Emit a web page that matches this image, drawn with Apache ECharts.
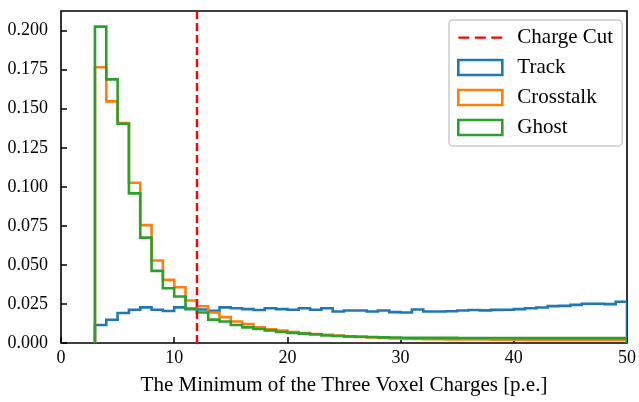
<!DOCTYPE html>
<html>
<head>
<meta charset="utf-8">
<script src="https://cdn.jsdelivr.net/npm/echarts@6/dist/echarts.min.js"></script>
<style>
html,body{margin:0;padding:0;background:#fff;}
#chart{width:639px;height:402px;}
</style>
</head>
<body>
<div id="chart"></div>
<script>
// Bin left edges (width 1) from 3 to 49; last bin ends at 50
const BIN_START = 3;
const BIN_WIDTH = 1;
const CHARGE_CUT = 12;
const X_TICKS = [0, 10, 20, 30, 40, 50];
const Y_TICKS = ['0.000','0.025','0.050','0.075','0.100','0.125','0.150','0.175','0.200'];

const track = [
  0.0115, 0.0149, 0.0192, 0.0213, 0.0228, 0.0213, 0.0205, 0.0228, 0.0217, 0.0215,
  0.0206, 0.0228, 0.0223, 0.0217, 0.0211, 0.0223, 0.0217, 0.0213, 0.0223, 0.0213,
  0.0223, 0.0202, 0.0208, 0.0208, 0.0202, 0.0208, 0.0198, 0.0195, 0.0215, 0.0202,
  0.0202, 0.0203, 0.0208, 0.0211, 0.0209, 0.0212, 0.0213, 0.0217, 0.0223, 0.0227,
  0.0236, 0.0238, 0.0244, 0.0251, 0.0251, 0.0249, 0.0264
];
const crosstalk = [
  0.1766, 0.1547, 0.1409, 0.1026, 0.0755, 0.0528, 0.0404, 0.0357, 0.0272, 0.0235,
  0.0195, 0.0166, 0.0138, 0.0121, 0.0100, 0.0087, 0.0079, 0.0070, 0.0064, 0.0058,
  0.0053, 0.0048, 0.0043, 0.0039, 0.0036, 0.0032, 0.0029, 0.0027, 0.0026, 0.0025,
  0.0024, 0.0023, 0.0023, 0.0022, 0.0022, 0.0021, 0.0021, 0.0021, 0.0020, 0.0020,
  0.0020, 0.0020, 0.0019, 0.0019, 0.0019, 0.0019, 0.0019
];
const ghost = [
  0.2026, 0.1688, 0.1404, 0.0958, 0.0675, 0.0462, 0.0351, 0.0298, 0.0220, 0.0195,
  0.0150, 0.0138, 0.0115, 0.0100, 0.0090, 0.0080, 0.0070, 0.0065, 0.0060, 0.0055,
  0.0048, 0.0045, 0.0042, 0.0040, 0.0038, 0.0036, 0.0035, 0.0034, 0.0033, 0.0033,
  0.0033, 0.0033, 0.0032, 0.0032, 0.0032, 0.0032, 0.0032, 0.0031, 0.0031, 0.0031,
  0.0031, 0.0031, 0.0031, 0.0031, 0.0031, 0.0031, 0.0031
];

const COLORS = {track:'#1f77b4', crosstalk:'#ff7f0e', ghost:'#2ca02c', cut:'#ff0000'};
const FONT = '"Liberation Serif", "Times New Roman", serif';

function stepSeries(name, values, color) {
  const data = values.map((v, i) => [BIN_START + i * BIN_WIDTH, v]);
  return {
    name: name,
    type: 'custom',
    itemStyle: {color: color},
    clip: true,
    encode: {x: 0, y: 1},
    data: data,
    renderItem: function (params, api) {
      if (params.dataIndex !== 0) return null;
      const pts = [];
      for (let i = 0; i < values.length; i++) {
        const x0 = BIN_START + i * BIN_WIDTH;
        const x1 = x0 + BIN_WIDTH;
        const prev = i === 0 ? 0 : values[i - 1];
        pts.push(api.coord([x0, prev]));
        pts.push(api.coord([x0, values[i]]));
        pts.push(api.coord([x1, values[i]]));
      }
      const xe = BIN_START + values.length * BIN_WIDTH;
      pts.push(api.coord([xe, 0]));
      return {
        type: 'polyline',
        shape: {points: pts},
        style: {stroke: color, fill: null, lineWidth: 2.6, lineJoin: 'miter'}
      };
    }
  };
}

const chart = echarts.init(document.getElementById('chart'), null, {renderer: 'canvas'});
const option = {
  animation: false,
  textStyle: {fontFamily: FONT, color: '#000'},
  grid: {left: 61, right: 9, top: 11, bottom: 59, show: true, borderColor: '#000', borderWidth: 1.6, containLabel: false},
  xAxis: {
    type: 'value', min: 0, max: 50, interval: 10,
    name: 'The Minimum of the Three Voxel Charges [p.e.]',
    nameLocation: 'middle', nameGap: 32,
    nameTextStyle: {fontFamily: FONT, fontSize: 21, color: '#000'},
    axisLine: {show: false},
    axisTick: {show: true, inside: true, length: 6, lineStyle: {color: '#000', width: 1.5}},
    axisLabel: {fontFamily: FONT, fontSize: 18, color: '#000', margin: 6,
      formatter: v => X_TICKS.indexOf(v) >= 0 ? String(v) : ''},
    splitLine: {show: false}
  },
  yAxis: {
    type: 'value', min: 0, max: 0.2126, interval: 0.025,
    axisLine: {show: false},
    axisTick: {show: true, inside: true, length: 6, lineStyle: {color: '#000', width: 1.5}},
    axisLabel: {fontFamily: FONT, fontSize: 18, color: '#000', margin: 13, showMaxLabel: false,
      formatter: v => { const s = v.toFixed(3); return Y_TICKS.indexOf(s) >= 0 ? s : ''; }},
    splitLine: {show: false}
  },
  legend: {
    orient: 'vertical', left: 449, top: 20,
    padding: [7, 9, 8, 8],
    itemGap: 9, itemWidth: 44, itemHeight: 15,
    borderColor: '#cccccc', borderWidth: 1.5, borderRadius: 4,
    backgroundColor: 'rgba(255,255,255,0.8)',
    textStyle: {fontFamily: FONT, fontSize: 21, lineHeight: 21, color: '#000', padding: [0, 0, 0, 10]},
    selectedMode: false,
    data: [
      {name: 'Charge Cut',
       icon: 'path://M0,0h0.01v0.01h-0.01z M44,15h0.01v0.01h-0.01z M0,6.4h11v2.4h-11z M16.5,6.4h11v2.4h-11z M33,6.4h11v2.4h-11z',
       itemStyle: {color: COLORS.cut, borderWidth: 0}},
      {name: 'Track', icon: 'rect', itemStyle: {color: '#fff', borderColor: COLORS.track, borderWidth: 2.6}},
      {name: 'Crosstalk', icon: 'rect', itemStyle: {color: '#fff', borderColor: COLORS.crosstalk, borderWidth: 2.6}},
      {name: 'Ghost', icon: 'rect', itemStyle: {color: '#fff', borderColor: COLORS.ghost, borderWidth: 2.6}}
    ]
  },
  series: [
    stepSeries('Track', track, COLORS.track),
    stepSeries('Crosstalk', crosstalk, COLORS.crosstalk),
    stepSeries('Ghost', ghost, COLORS.ghost),
    {
      name: 'Charge Cut', type: 'custom', itemStyle: {color: COLORS.cut},
      data: [], renderItem: () => null, z: 10,
      markLine: {
        silent: true, symbol: 'none', z: 10,
        label: {show: false},
        lineStyle: {color: COLORS.cut, type: [8, 4], width: 2.4},
        data: [{xAxis: CHARGE_CUT}]
      }
    }
  ]
};
chart.setOption(option);
</script>
</body>
</html>
